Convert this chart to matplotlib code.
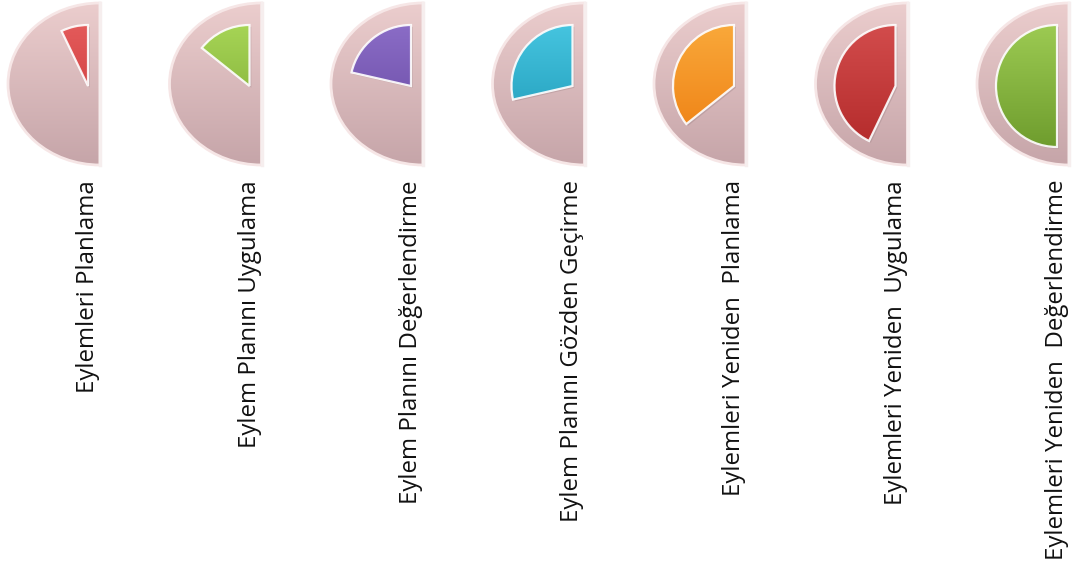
import numpy as np
import matplotlib
matplotlib.use("Agg")
import matplotlib.pyplot as plt
from matplotlib.patches import Wedge
from matplotlib.transforms import Affine2D

# steps of the action-plan cycle: each icon fills k/7 of the half circle
labels = [
    "Eylemleri Planlama",
    "Eylem Planını Uygulama",
    "Eylem Planını Değerlendirme",
    "Eylem Planını Gözden Geçirme",
    "Eylemleri Yeniden  Planlama",
    "Eylemleri Yeniden  Uygulama",
    "Eylemleri Yeniden  Değerlendirme",
]
steps = [1, 2, 3, 4, 5, 6, 7]
total = 7
top_colors = ["#e35a5a", "#a6d455", "#8a6cc6", "#45c4df", "#f9a83a", "#d24c4c", "#9cca52"]
bottom_colors = ["#c83434", "#7aa733", "#6647a0", "#1d98b6", "#ee7f12", "#b42b2b", "#6f9d2e"]

W, H = 1074, 565
fig = plt.figure(figsize=(W / 100, H / 100), dpi=100)
ax = fig.add_axes([0, 0, 1, 1])
ax.set_xlim(0, W)
ax.set_ylim(H, 0)
ax.axis("off")


def vgrad(c_top, c_bot, n=64):
    a = np.array(matplotlib.colors.to_rgb(c_top))
    b = np.array(matplotlib.colors.to_rgb(c_bot))
    t = np.linspace(0, 1, n)[:, None]
    return (a + (b - a) * t)[:, None, :]


def unit_tf(cx, cy, rx, ry):
    # unit circle -> pixel ellipse, y flipped so 90 deg is the top
    return Affine2D().scale(rx, -ry).translate(cx, cy) + ax.transData


cy = 84
bg_rx, bg_ry = 92, 81
fg_dx, fg_dy, fg_r = 12, 2, 61
spacing = 161.5
for i, (lab, k) in enumerate(zip(labels, steps)):
    cx = 100 + spacing * i

    # pink background half circle
    bg = Wedge((0, 0), 1, 90, 270, transform=unit_tf(cx, cy, bg_rx, bg_ry),
               facecolor="none", edgecolor="#f6e6e6", linewidth=2.0, zorder=3)
    ax.add_patch(bg)
    im = ax.imshow(vgrad("#ebcdcd", "#c6a5a9"), extent=(cx - bg_rx, cx, cy + bg_ry, cy - bg_ry),
                   aspect="auto", zorder=2, interpolation="bilinear")
    im.set_clip_path(bg)
    ax.plot([cx, cx], [cy - bg_ry, cy + bg_ry], color="#f6eeee", lw=2.5, zorder=3)

    # coloured wedge for this step
    theta2 = 90 + 180 * k / total
    wy = cy + fg_dy
    fg_tf = unit_tf(cx - fg_dx, wy, fg_r, fg_r)
    shadow = Wedge((0.03, -0.03), 1, 90, theta2, transform=fg_tf,
                   facecolor="#9a7f82", alpha=0.35, edgecolor="none", zorder=4)
    ax.add_patch(shadow)
    fg = Wedge((0, 0), 1, 90, theta2, transform=fg_tf,
               facecolor="none", edgecolor="#ffffff", linewidth=1.6, alpha=0.9, zorder=6)
    ax.add_patch(fg)
    im2 = ax.imshow(vgrad(top_colors[i], bottom_colors[i]),
                    extent=(cx - fg_dx - fg_r, cx - fg_dx, wy + fg_r, wy - fg_r),
                    aspect="auto", zorder=5, interpolation="bilinear")
    im2.set_clip_path(fg)

    ax.text(cx - 12, 180, lab, rotation=90, ha="center", va="top",
            fontsize=17.3, family="Open Sans", color="#111111")

fig.savefig("out.png", dpi=100, facecolor="white")
